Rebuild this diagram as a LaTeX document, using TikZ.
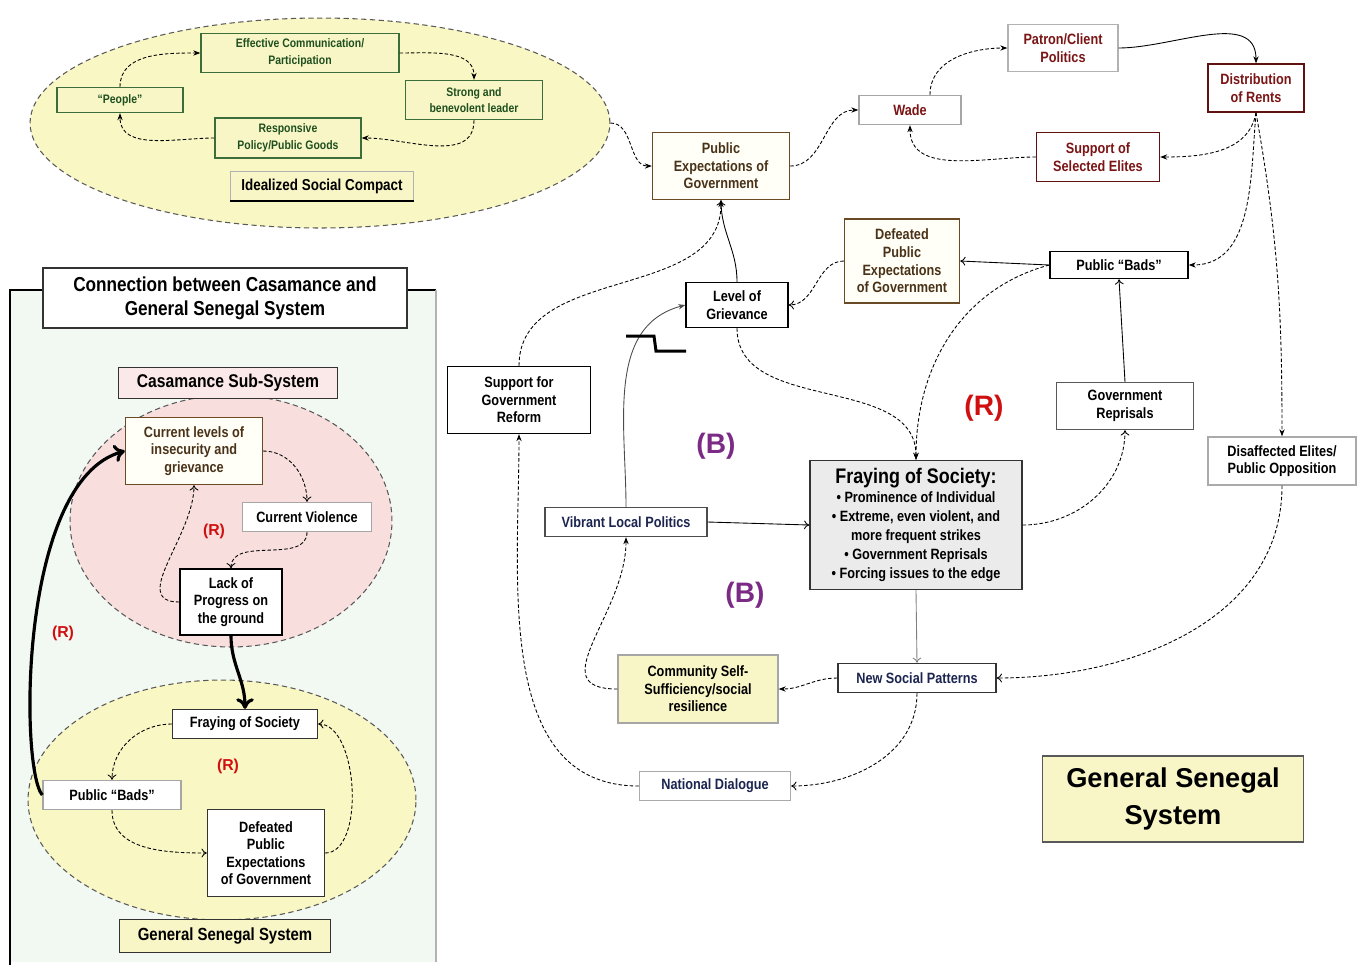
\documentclass[tikz,border=0pt]{standalone}
\usepackage{fontspec}
\setmainfont{Liberation Sans}[FakeStretch=0.85]
\newfontfamily\widefont{Liberation Sans}
\usetikzlibrary{shapes.geometric,arrows.meta}
\newcommand\fsz[2]{\fontsize{#1}{#2}\selectfont}
\definecolor{dgreen}{HTML}{1F4F1F}
\definecolor{bgreen}{HTML}{3C6E3C}
\definecolor{yell}{HTML}{F9F7C3}
\definecolor{boxyell}{HTML}{F8F6C6}
\definecolor{brownt}{HTML}{4A3218}
\definecolor{brownb}{HTML}{6A4A24}
\definecolor{dred}{HTML}{7B1515}
\definecolor{navy}{HTML}{1C2450}
\definecolor{pinkf}{HTML}{F9DEDE}
\definecolor{pinkbox}{HTML}{FBE8E8}
\definecolor{grayf}{HTML}{EBEBEB}
\definecolor{panelbg}{HTML}{F2F8F2}
\definecolor{redlab}{HTML}{D01010}
\definecolor{purp}{HTML}{7B2A85}
\definecolor{lightb}{HTML}{AAAAAA}
\tikzset{
  bx/.style={draw, rectangle, align=center, inner sep=1pt, line width=0.8pt,
    fill=white, font=\bfseries\fsz{8.5}{10}},
  gbx/.style={bx, draw=bgreen, fill=boxyell, text=dgreen, font=\bfseries\fsz{7}{9.5}},
  rbx/.style={bx, draw=dred!80!black, text=dred},
  brbx/.style={bx, draw=brownb, text=brownt, fill=white!97!yellow},
  nbx/.style={bx, text=navy},
  ell/.style={ellipse, draw=gray!70!black, densely dashed, line width=0.6pt, inner sep=0pt},
  dsh/.style={dash pattern=on 2pt off 1.2pt, line width=0.5pt, -{Stealth[length=4pt,width=3pt]}},
  dsho/.style={dash pattern=on 2pt off 1.2pt, line width=0.5pt, -{To[length=3pt,width=5pt]}},
  sol/.style={line width=0.5pt, -{To[length=3pt,width=5pt]}},
  solf/.style={line width=0.5pt, -{Stealth[length=4pt,width=3pt]}},
  thick arrow/.style={line width=1.8pt, -{To[length=6pt,width=10pt]}},
  looplab/.style={font=\widefont\bfseries\fsz{16}{18}}
}
\begin{document}
\begin{tikzpicture}[x=0.02cm, y=-0.02cm]
\useasboundingbox (0,0) rectangle (1366,965);

% ---------- idealized social compact ----------
\node[ell, fill=yell, minimum width=11.6cm, minimum height=4.2cm] (compact) at (320,123) {};
\node[gbx, minimum width=3.96cm, minimum height=0.78cm] (eff) at (300,53) {Effective Communication/\\Participation};
\node[gbx, minimum width=2.74cm, minimum height=0.78cm] (strong) at (474,100) {Strong and\\benevolent leader};
\node[gbx, minimum width=2.52cm, minimum height=0.5cm] (people) at (120,100) {“People”};
\node[gbx, minimum width=2.92cm, minimum height=0.8cm] (resp) at (288,138) {Responsive\\Policy/Public Goods};
\node[bx, fill=boxyell, draw=gray!60, minimum width=3.66cm, minimum height=0.58cm, font=\bfseries\fsz{9}{11}] (ideal) at (322,186) {Idealized Social Compact};
\draw[line width=1.4pt] (ideal.south west) -- (ideal.south east);
\draw[dsh] (people.north) to[out=90,in=180] (eff.west);
\draw[dsh] (eff.east) to[out=0,in=90] (strong.north);
\draw[dsh] (strong.south) to[out=-90,in=0] (resp.east);
\draw[dsh] (resp.west) to[out=180,in=-90] (people.south);

% ---------- rent-distribution loop ----------
\node[brbx, minimum width=2.74cm, minimum height=1.34cm] (pubexp) at (721,166) {Public\\Expectations of\\Government};
\node[rbx, draw=gray!70, minimum width=2.04cm, minimum height=0.58cm] (wade) at (910,110) {Wade};
\node[rbx, draw=gray!60, minimum width=2.2cm, minimum height=0.94cm] (patron) at (1063,48) {Patron/Client\\Politics};
\node[rbx, minimum width=1.92cm, minimum height=0.96cm] (distr) at (1256,88) {Distribution\\of Rents};
\node[rbx, minimum width=2.46cm, minimum height=0.98cm] (support) at (1098,157) {Support of\\Selected Elites};
\draw[dsh] (compact.east) to[out=0,in=180] (pubexp.west);
\draw[dsh] (pubexp.east) to[out=0,in=180] (wade.west);
\draw[dsh] ([xshift=0.4cm]wade.north) to[out=90,in=180] (patron.west);
\draw[solf] (patron.east) to[out=0,in=90] (distr.north);
\draw[dsh] (distr.south) to[out=-100,in=0] (support.east);
\draw[dsh] (support.west) to[out=180,in=-90] (wade.south);

% ---------- general Senegal system ----------
\node[brbx, minimum width=2.3cm, minimum height=1.68cm] (defeated) at (902,261) {Defeated\\Public\\Expectations\\of Government};
\node[bx, minimum width=2.76cm, minimum height=0.54cm] (bads) at (1119,265) {Public “Bads”};
\node[bx, minimum width=2.04cm, minimum height=0.9cm] (griev) at (737,305) {Level of\\Grievance};
\node[bx, minimum width=2.86cm, minimum height=1.34cm] (reform) at (519,400) {Support for\\Government\\Reform};
\node[bx, draw=gray!70!black, minimum width=2.74cm, minimum height=0.94cm] (repr) at (1125,406) {Government\\Reprisals};
\node[bx, draw=lightb, minimum width=2.96cm, minimum height=0.96cm] (disaff) at (1282,461) {Disaffected Elites/\\Public Opposition};
\node[bx, fill=grayf, draw=black!80, minimum width=4.24cm, minimum height=2.58cm, font=\bfseries\fsz{8.5}{10.8}] (fray) at (916,525)
  {{\fsz{12}{14}Fraying of Society:}\\• Prominence of Individual\\• Extreme, even violent, and\\more frequent strikes\\• Government Reprisals\\• Forcing issues to the edge};
\node[nbx, draw=black!70, minimum width=3.24cm, minimum height=0.58cm] (vibrant) at (626,522) {Vibrant Local Politics};
\node[bx, fill=boxyell, draw=gray!70, minimum width=3.2cm, minimum height=1.36cm] (comm) at (698,689) {Community Self-\\Sufficiency/social\\resilience};
\node[nbx, draw=black!80, minimum width=3.16cm, minimum height=0.58cm] (nsp) at (917,678) {New Social Patterns};
\node[nbx, draw=lightb, minimum width=3.02cm, minimum height=0.58cm] (natd) at (715,786) {National Dialogue};
\node[bx, fill=boxyell, draw=gray!70!black, minimum width=5.22cm, minimum height=1.72cm, font=\widefont\bfseries\fsz{15.5}{21}] (gss) at (1173,799) {General Senegal\\System};

\draw[dsh] (distr.south) to[out=-95,in=0] (bads.east);
\draw[dsh] (distr.south) to[out=-80,in=90] (disaff.north);
\draw[sol] (griev.north) to[out=90,in=-90] (pubexp.south);
\draw[dsh] (reform.north) to[out=90,in=-90] (pubexp.south);
\draw[dsho] (defeated.west) to[out=180,in=0] (griev.east);
\draw[sol] (bads.west) -- (defeated.east);
\draw[dsh] (bads.west) to[out=195,in=90] (fray.north);
\draw[dsh] (griev.south) to[out=-90,in=90] (fray.north);
\draw[sol] (repr.north) -- (bads.south);
\draw[dsho] (fray.east) to[out=0,in=-90] (repr.south);
\draw[sol] (vibrant.east) -- (fray.west);
\draw[solf, draw=black!70] (vibrant.north) to[out=90,in=195] (griev.west);
\draw[sol, draw=gray] (fray.south) -- (nsp.north);
\draw[dsho] (disaff.south) to[out=-90,in=0] (nsp.east);
\draw[dsh] (nsp.west) to[out=180,in=0] (comm.east);
\draw[dsho] (nsp.south) to[out=-90,in=0] (natd.east);
\draw[dsh] (natd.west) to[out=180,in=-90] (reform.south);
\draw[dsh] (comm.west) to[out=180,in=-90,looseness=1.3] (vibrant.south);

% delay mark on the grievance link
\draw[line width=1.7pt] (626,336) -- (654,336) -- (656,351) -- (686,351);

\node[looplab, text=redlab] (rmain) at (984,408) {(R)};
\node[looplab, text=purp] (bone) at (716,446) {(B)};
\node[looplab, text=purp] (btwo) at (745,595) {(B)};

% ---------- Casamance connection panel ----------
\fill[panelbg] (10,290) rectangle (436,962);
\draw[line width=0.8pt] (10,965) -- (10,290) -- (43,290);
\draw[line width=0.8pt] (407,290) -- (436,290);
\draw[line width=0.6pt, gray!60] (436,290) -- (436,962);
\node[bx, draw=black!80, minimum width=7.28cm, minimum height=1.2cm, font=\bfseries\fsz{11.5}{13.6}] (conn) at (225,298) {Connection between Casamance and\\General Senegal System};

\node[ell, fill=pinkf, minimum width=6.44cm, minimum height=5.04cm] (casaell) at (231,521) {};
\node[ell, fill=yell, minimum width=7.76cm, minimum height=4.8cm] (senell) at (222,800) {};
\node[bx, fill=pinkbox, draw=black!80, minimum width=4.38cm, minimum height=0.62cm, font=\bfseries\fsz{10.5}{12}] (casa) at (228,383) {Casamance Sub-System};
\node[brbx, minimum width=2.74cm, minimum height=1.34cm] (curl) at (194,451) {Current levels of\\insecurity and\\grievance};
\node[bx, draw=gray!70, minimum width=2.58cm, minimum height=0.58cm] (curv) at (307,517) {Current Violence};
\node[bx, minimum width=2.04cm, minimum height=1.32cm] (lack) at (231,602) {Lack of\\Progress on\\the ground};
\node[bx, draw=black!80, minimum width=2.9cm, minimum height=0.58cm] (lfray) at (245,724) {Fraying of Society};
\node[bx, draw=gray!70, minimum width=2.76cm, minimum height=0.58cm] (lbads) at (112,795) {Public “Bads”};
\node[bx, draw=black!80, minimum width=2.34cm, minimum height=1.74cm] (ldef) at (266,853) {Defeated\\Public\\Expectations\\of Government};
\node[bx, fill=boxyell, draw=black!80, minimum width=4.22cm, minimum height=0.66cm, font=\bfseries\fsz{10}{12}] (lgss) at (225,936) {General Senegal System};

\draw[dsho] (curl.east) to[out=0,in=90] (curv.north);
\draw[dsho] (curv.south) to[out=-90,in=90] (lack.north);
\draw[dsho] (lack.west) to[out=180,in=-90,looseness=1.1] (curl.south);
\draw[dsho] (lfray.west) to[out=180,in=90] (lbads.north);
\draw[dsho] (lbads.south) to[out=-90,in=180] (ldef.west);
\draw[dsho] (ldef.east) to[out=0,in=0,looseness=0.8] (lfray.east);
\draw[thick arrow] (lack.south) to[out=-90,in=90] (lfray.north);
\draw[thick arrow] (lbads.west) .. controls (20,770) and (18,480) .. (curl.west);

\node[font=\widefont\bfseries\fsz{9}{11}, text=redlab] (rcasa) at (214,531) {(R)};
\node[font=\widefont\bfseries\fsz{9}{11}, text=redlab] (rlink) at (63,633) {(R)};
\node[font=\widefont\bfseries\fsz{9}{11}, text=redlab] (rsen) at (228,766) {(R)};
\end{tikzpicture}
\end{document}
